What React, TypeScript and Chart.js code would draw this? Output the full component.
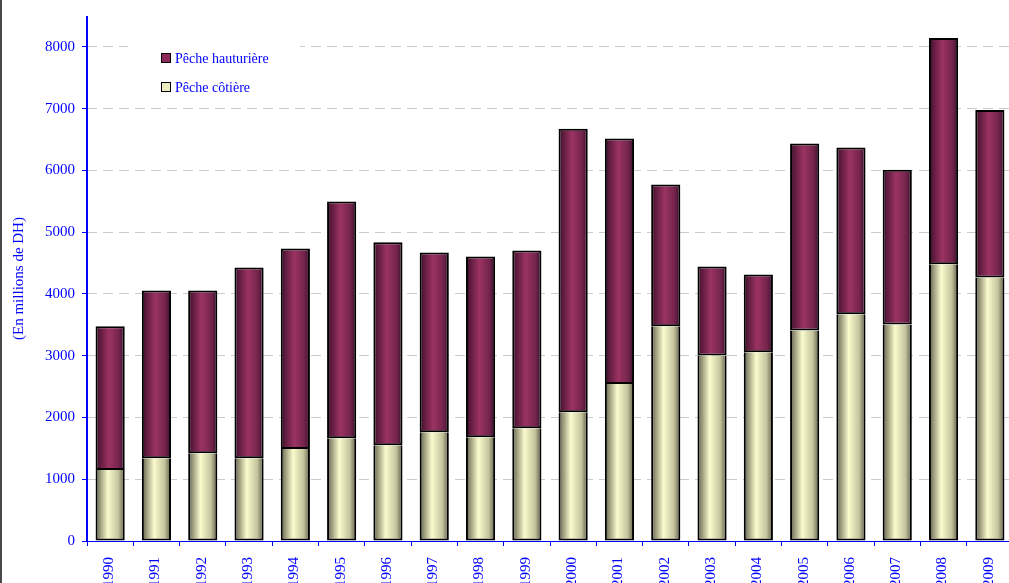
import React, { useEffect, useRef } from "react";
import { Chart, registerables } from "chart.js";

Chart.register(...registerables);

const years = ["1990","1991","1992","1993","1994","1995","1996","1997","1998","1999","2000","2001","2002","2003","2004","2005","2006","2007","2008","2009"];
const coastal = [1150, 1340, 1420, 1340, 1490, 1665, 1550, 1760, 1680, 1825, 2085, 2540, 3475, 3005, 3055, 3410, 3670, 3505, 4480, 4265];
const offshore = [2325, 2715, 2635, 3090, 3245, 3830, 3285, 2910, 2925, 2880, 4590, 3975, 2295, 1440, 1260, 3025, 2700, 2505, 3665, 2715];
const seriesNames = ["Pêche hauturière", "Pêche côtière"];
const yTicks = [0, 1000, 2000, 3000, 4000, 5000, 6000, 7000, 8000];
const yMax = 8500;

const BLUE = "#0000ff";
const FONT = "'Liberation Serif', 'DejaVu Serif', serif";
const BAR_PCT = 0.63;

const coastalStops: [number, string][] = [
  [0, "#45452f"], [0.1, "#85856a"], [0.42, "#fbfbcd"], [0.78, "#c4c49e"], [1, "#5a5a42"],
];
const offshoreStops: [number, string][] = [
  [0, "#22061a"], [0.12, "#58183a"], [0.46, "#9b3363"], [0.8, "#74244c"], [1, "#35102a"],
];

function gradientFill(stops: [number, string][]) {
  return (ctx: any) => {
    const chart = ctx.chart;
    const xs = chart.scales?.x;
    if (!xs || ctx.type !== "data" || !xs.width) return stops[2][1];
    const cx = xs.getPixelForValue(ctx.dataIndex);
    const w = (xs.width / years.length) * BAR_PCT;
    const g = chart.ctx.createLinearGradient(cx - w / 2, 0, cx + w / 2, 0);
    stops.forEach(([o, c]) => g.addColorStop(o, c));
    return g;
  };
}

const overlayPlugin = {
  id: "overlay",
  afterDraw(chart: any) {
    const ctx = chart.ctx;
    const xs = chart.scales.x;
    const area = chart.chartArea;
    ctx.save();
    // y axis line
    ctx.fillStyle = BLUE;
    ctx.fillRect(Math.round(area.left) - 1, area.top, 2, area.bottom - area.top + 1);
    // x labels, rotated counter-clockwise
    ctx.font = `15px ${FONT}`;
    ctx.textAlign = "right";
    ctx.textBaseline = "middle";
    years.forEach((y, i) => {
      const x = xs.getPixelForValue(i);
      ctx.save();
      ctx.translate(x - 1, area.bottom + 16);
      ctx.rotate(-Math.PI / 2);
      ctx.fillText(y, 0, 0);
      ctx.restore();
    });
    // legend
    ctx.fillStyle = "#ffffff";
    ctx.fillRect(128, 36, 172, 62);
    const items = [
      { name: seriesNames[0], color: "#8e2a5a", y: 58 },
      { name: seriesNames[1], color: "#ececbe", y: 87 },
    ];
    ctx.font = `14px ${FONT}`;
    ctx.textAlign = "left";
    items.forEach((it) => {
      ctx.fillStyle = it.color;
      ctx.fillRect(161, it.y - 5, 10, 10);
      ctx.strokeStyle = "#000000";
      ctx.lineWidth = 1;
      ctx.strokeRect(161.5, it.y - 4.5, 9, 9);
      ctx.fillStyle = BLUE;
      ctx.textBaseline = "middle";
      ctx.fillText(it.name, 175, it.y + 1);
    });
    ctx.restore();
  },
};

export default function App() {
  const ref = useRef<HTMLCanvasElement>(null);
  useEffect(() => {
    if (!ref.current) return;
    const chart = new Chart(ref.current, {
      type: "bar",
      data: {
        labels: years,
        datasets: [
          {
            label: seriesNames[1],
            data: coastal,
            backgroundColor: gradientFill(coastalStops) as any,
            borderColor: "#000000",
            borderWidth: 2,
            borderSkipped: "end",
            barPercentage: BAR_PCT,
            categoryPercentage: 1,
          },
          {
            label: seriesNames[0],
            data: offshore,
            backgroundColor: gradientFill(offshoreStops) as any,
            borderColor: "#000000",
            borderWidth: 2,
            borderSkipped: false,
            barPercentage: BAR_PCT,
            categoryPercentage: 1,
          },
        ],
      },
      options: {
        responsive: false,
        animation: false,
        layout: { padding: { top: 16, left: 0, right: 0, bottom: 0 } },
        plugins: { legend: { display: false }, tooltip: { enabled: false } },
        scales: {
          x: {
            stacked: true,
            ticks: { display: false },
            grid: {
              drawOnChartArea: false,
              drawTicks: true,
              tickLength: 5,
              tickColor: BLUE,
              offset: true,
            },
            border: { display: true, color: BLUE, width: 1 },
            afterFit: (s: any) => {
              s.height = 42;
            },
          },
          y: {
            type: "linear",
            stacked: true,
            min: 0,
            max: yMax,
            afterBuildTicks: (s: any) => {
              s.ticks = yTicks.map((v) => ({ value: v }));
            },
            ticks: {
              autoSkip: false,
              color: BLUE,
              font: { family: FONT, size: 15 },
              padding: 7,
              callback: (v: any) => String(v),
            },
            grid: {
              display: true,
              drawOnChartArea: true,
              drawTicks: true,
              color: "#cccccc",
              tickColor: BLUE,
              tickLength: 5,
              lineWidth: 1,
            },
            border: { display: false, color: BLUE, width: 1, dash: [10, 6] },
            title: {
              display: true,
              text: "(En millions de DH)",
              color: BLUE,
              font: { family: FONT, size: 15 },
              padding: { top: 10, bottom: 0 },
            },
            afterFit: (s: any) => {
              s.width = 87;
            },
          },
        },
      },
      plugins: [overlayPlugin],
    });
    return () => chart.destroy();
  }, []);
  return (
    <div style={{ position: "fixed", left: 0, top: 0, width: 1009, height: 583, overflow: "hidden", background: "#fff" }}>
      <canvas ref={ref} width={1013} height={583} style={{ display: "block" }} />
      <div style={{ position: "absolute", left: 0, top: 0, width: 2, height: 583, background: "#4a4a4a" }} />
    </div>
  );
}
